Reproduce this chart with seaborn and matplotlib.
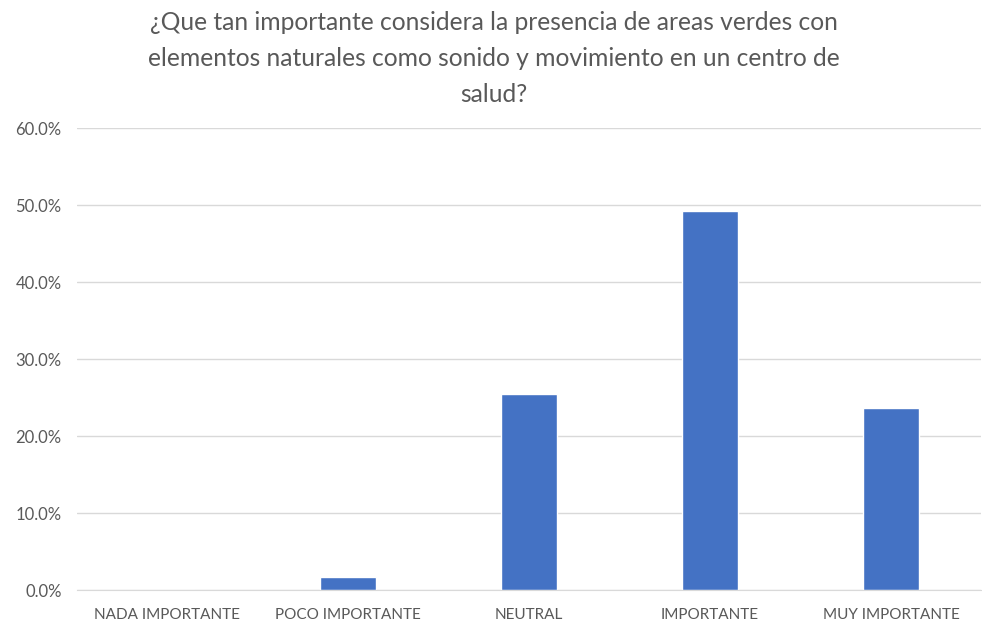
import matplotlib
matplotlib.use('Agg')
import matplotlib.pyplot as plt
import seaborn as sns
import pandas as pd
from matplotlib.ticker import PercentFormatter

# survey answers (share of respondents, %)
categorias = ['NADA IMPORTANTE', 'POCO IMPORTANTE', 'NEUTRAL', 'IMPORTANTE', 'MUY IMPORTANTE']
porcentajes = [0.0, 1.7, 25.4, 49.2, 23.7]
titulo = ('¿Que tan importante considera la presencia de areas verdes con\n'
          'elementos naturales como sonido y movimiento en un centro de\n'
          'salud?')

df = pd.DataFrame({'categoria': categorias, 'pct': porcentajes})

sns.set_style('white')
plt.rcParams['font.family'] = ['Lato', 'DejaVu Sans']

fig = plt.figure(figsize=(9.82, 6.36), dpi=100)
ax = fig.add_axes([0.0784, 0.0723, 0.921, 0.7264])

sns.barplot(data=df, x='categoria', y='pct', color='#4472C4', width=0.31,
            saturation=1, ax=ax)

ax.set_ylim(0, 60)
ax.set_yticks([0, 10, 20, 30, 40, 50, 60])
ax.yaxis.set_major_formatter(PercentFormatter(decimals=1))
ax.grid(axis='y', color='#d9d9d9', linewidth=1)
ax.set_axisbelow(True)
for s in ['top', 'right', 'left']:
    ax.spines[s].set_visible(False)
ax.spines['bottom'].set_color('#d9d9d9')
ax.tick_params(axis='both', length=0, colors='#595959', labelsize=11)
ax.tick_params(axis='y', pad=11, labelsize=12)
ax.tick_params(axis='x', pad=13)
ax.set_xlabel('')
ax.set_ylabel('')

fig.text(0.503, 0.982, titulo, ha='center', va='top', fontsize=17.7,
         color='#595959', linespacing=1.66)

fig.savefig('out.png', dpi=100, facecolor='white')
